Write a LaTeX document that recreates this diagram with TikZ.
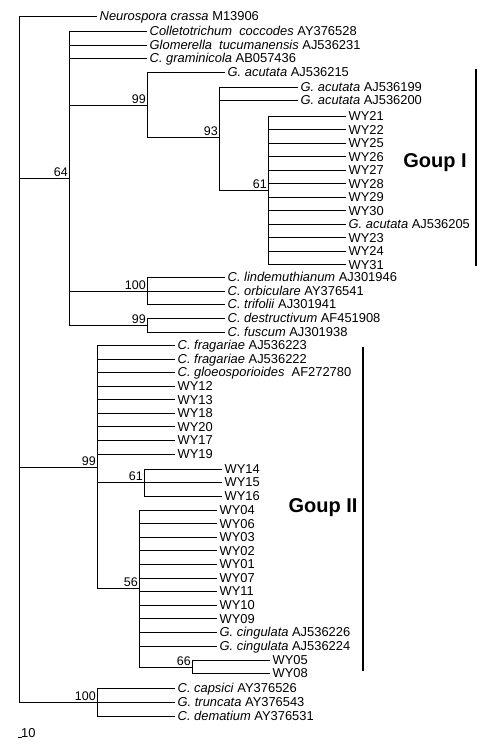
\documentclass[tikz,border=0pt]{standalone}
\usepackage{fontspec}
\setmainfont{Liberation Sans}
\usepackage{tikz}
\usetikzlibrary{calc}
\newcommand*\leaffont{\fontsize{12.9}{14}\selectfont}
\newcommand*\bootfont{\fontsize{12.5}{14}\selectfont}
\tikzset{
  leaf/.style={anchor=west,inner sep=2.5pt,text height=9.6pt,text depth=0pt,font=\leaffont},
  boot/.style={anchor=south east,inner sep=1pt,text height=9pt,text depth=0pt,font=\bootfont},
  grouplabel/.style={inner sep=0pt,font=\fontsize{20}{24}\selectfont\bfseries},
  branch/.style={line width=0.8pt}
}

\begin{document}
\begin{tikzpicture}[x=1pt,y=-1pt]
\useasboundingbox (0,0) rectangle (494,746);
%internal nodes
\coordinate (root) at (19,359);
\coordinate (n64) at (69,178);
\coordinate (n99a) at (147,105);
\coordinate (n93) at (219,137);
\coordinate (n61a) at (268,190);
\coordinate (n100a) at (147,291);
\coordinate (n99b) at (147,325);
\coordinate (n99c) at (97,467);
\coordinate (n61b) at (144,482);
\coordinate (n56) at (139,588);
\coordinate (n66) at (192,667);
\coordinate (n100b) at (97,702);
%
\node [leaf] (neu) at (97,16) {\textit{Neurospora crassa} M13906};
\node [leaf] (coc) at (147,31) {\textit{Colletotrichum\ \ coccodes} AY376528};
\node [leaf] (glo) at (147,45) {\textit{Glomerella\ \ tucumanensis} AJ536231};
\node [leaf] (gra) at (147,58) {\textit{C. graminicola} AB057436};
\node [leaf] (acu215) at (225,72) {\textit{G. acutata} AJ536215};
\node [leaf] (acu199) at (298,87) {\textit{G. acutata} AJ536199};
\node [leaf] (acu200) at (298,100) {\textit{G. acutata} AJ536200};
% group I isolates
\node [leaf] (wy21) at (346,116) {WY21};
\node [leaf] (wy22) at (346,129.5) {WY22};
\node [leaf] (wy25) at (346,143) {WY25};
\node [leaf] (wy26) at (346,156.5) {WY26};
\node [leaf] (wy27) at (346,170) {WY27};
\node [leaf] (wy28) at (346,183.5) {WY28};
\node [leaf] (wy29) at (346,197) {WY29};
\node [leaf] (wy30) at (346,210.5) {WY30};
\node [leaf] (acu205) at (346,224) {\textit{G. acutata} AJ536205};
\node [leaf] (wy23) at (346,237.5) {WY23};
\node [leaf] (wy24) at (346,251) {WY24};
\node [leaf] (wy31) at (346,264.5) {WY31};
%
\node [leaf] (lin) at (225,277) {\textit{C. lindemuthianum} AJ301946};
\node [leaf] (orb) at (225,291) {\textit{C. orbiculare} AY376541};
\node [leaf] (tri) at (225,304) {\textit{C. trifolii} AJ301941};
\node [leaf] (des) at (225,318) {\textit{C. destructivum} AF451908};
\node [leaf] (fus) at (225,332) {\textit{C. fuscum} AJ301938};
% group II
\node [leaf] (fra223) at (175,345) {\textit{C. fragariae} AJ536223};
\node [leaf] (fra222) at (175,359) {\textit{C. fragariae} AJ536222};
\node [leaf] (gls) at (175,372) {\textit{C. gloeosporioides}\ \ AF272780};
\node [leaf] (wy12) at (175,386) {WY12};
\node [leaf] (wy13) at (175,399.5) {WY13};
\node [leaf] (wy18) at (175,413) {WY18};
\node [leaf] (wy20) at (175,426.5) {WY20};
\node [leaf] (wy17) at (175,440) {WY17};
\node [leaf] (wy19) at (175,454) {WY19};
\node [leaf] (wy14) at (222,469) {WY14};
\node [leaf] (wy15) at (222,482) {WY15};
\node [leaf] (wy16) at (222,496) {WY16};
\node [leaf] (wy04) at (217,510) {WY04};
\node [leaf] (wy06) at (217,523.5) {WY06};
\node [leaf] (wy03) at (217,537) {WY03};
\node [leaf] (wy02) at (217,550.5) {WY02};
\node [leaf] (wy01) at (217,564) {WY01};
\node [leaf] (wy07) at (217,578) {WY07};
\node [leaf] (wy11) at (217,591) {WY11};
\node [leaf] (wy10) at (217,605) {WY10};
\node [leaf] (wy09) at (217,618.5) {WY09};
\node [leaf] (cin226) at (217,632) {\textit{G. cingulata} AJ536226};
\node [leaf] (cin224) at (217,646) {\textit{G. cingulata} AJ536224};
\node [leaf] (wy05) at (270,660) {WY05};
\node [leaf] (wy08) at (270,673) {WY08};
% outgroup
\node [leaf] (cap) at (175,688) {\textit{C. capsici} AY376526};
\node [leaf] (tru) at (175,702) {\textit{G. truncata} AY376543};
\node [leaf] (dem) at (175,716) {\textit{C. dematium} AY376531};
%
\begin{scope}[branch]
% root
\draw (root |- neu) -- (root |- n100b);
\draw (root |- neu) -- (neu.west);
\draw (root |- n64) -- (n64);
\draw (root |- n99c) -- (n99c);
\draw (root |- n100b) -- (n100b);
% node 64
\draw (n64 |- coc) -- (n64 |- n99b);
\draw (n64 |- coc) -- (coc.west);
\draw (n64 |- glo) -- (glo.west);
\draw (n64 |- gra) -- (gra.west);
\draw (n64 |- n99a) -- (n99a);
\draw (n64 |- n100a) -- (n100a);
\draw (n64 |- n99b) -- (n99b);
% node 99, node 93
\draw (n99a |- acu215) -- (n99a |- n93);
\draw (n99a |- acu215) -- (acu215.west);
\draw (n99a |- n93) -- (n93);
\draw (n93 |- acu199) -- (n93 |- n61a);
\draw (n93 |- acu199) -- (acu199.west);
\draw (n93 |- acu200) -- (acu200.west);
\draw (n93 |- n61a) -- (n61a);
% node 61
\draw (n61a |- wy21) -- (n61a |- wy31);
\draw (n61a |- wy21) -- (wy21.west);
\draw (n61a |- wy22) -- (wy22.west);
\draw (n61a |- wy25) -- (wy25.west);
\draw (n61a |- wy26) -- (wy26.west);
\draw (n61a |- wy27) -- (wy27.west);
\draw (n61a |- wy28) -- (wy28.west);
\draw (n61a |- wy29) -- (wy29.west);
\draw (n61a |- wy30) -- (wy30.west);
\draw (n61a |- acu205) -- (acu205.west);
\draw (n61a |- wy23) -- (wy23.west);
\draw (n61a |- wy24) -- (wy24.west);
\draw (n61a |- wy31) -- (wy31.west);
% node 100, node 99
\draw (n100a |- lin) -- (n100a |- tri);
\draw (n100a |- lin) -- (lin.west);
\draw (n100a |- orb) -- (orb.west);
\draw (n100a |- tri) -- (tri.west);
\draw (n99b |- des) -- (n99b |- fus);
\draw (n99b |- des) -- (des.west);
\draw (n99b |- fus) -- (fus.west);
% node 99 (group II)
\draw (n99c |- fra223) -- (n99c |- n56);
\draw (n99c |- fra223) -- (fra223.west);
\draw (n99c |- fra222) -- (fra222.west);
\draw (n99c |- gls) -- (gls.west);
\draw (n99c |- wy12) -- (wy12.west);
\draw (n99c |- wy13) -- (wy13.west);
\draw (n99c |- wy18) -- (wy18.west);
\draw (n99c |- wy20) -- (wy20.west);
\draw (n99c |- wy17) -- (wy17.west);
\draw (n99c |- wy19) -- (wy19.west);
\draw (n99c |- n61b) -- (n61b);
\draw (n99c |- n56) -- (n56);
\draw (n61b |- wy14) -- (n61b |- wy16);
\draw (n61b |- wy14) -- (wy14.west);
\draw (n61b |- wy15) -- (wy15.west);
\draw (n61b |- wy16) -- (wy16.west);
% node 56
\draw (n56 |- wy04) -- (n56 |- n66);
\draw (n56 |- wy04) -- (wy04.west);
\draw (n56 |- wy06) -- (wy06.west);
\draw (n56 |- wy03) -- (wy03.west);
\draw (n56 |- wy02) -- (wy02.west);
\draw (n56 |- wy01) -- (wy01.west);
\draw (n56 |- wy07) -- (wy07.west);
\draw (n56 |- wy11) -- (wy11.west);
\draw (n56 |- wy10) -- (wy10.west);
\draw (n56 |- wy09) -- (wy09.west);
\draw (n56 |- cin226) -- (cin226.west);
\draw (n56 |- cin224) -- (cin224.west);
\draw (n56 |- n66) -- (n66);
\draw (n66 |- wy05) -- (n66 |- wy08);
\draw (n66 |- wy05) -- (wy05.west);
\draw (n66 |- wy08) -- (wy08.west);
% node 100 (outgroup)
\draw (n100b |- cap) -- (n100b |- dem);
\draw (n100b |- cap) -- (cap.west);
\draw (n100b |- tru) -- (tru.west);
\draw (n100b |- dem) -- (dem.west);
\end{scope}
% bootstrap values
\node [boot] (b64) at (n64) {64};
\node [boot] (b99a) at (n99a) {99};
\node [boot] (b93) at (n93) {93};
\node [boot] (b61a) at (n61a) {61};
\node [boot] (b100a) at (n100a) {100};
\node [boot] (b99b) at (n99b) {99};
\node [boot] (b99c) at (n99c) {99};
\node [boot] (b61b) at (n61b) {61};
\node [boot] (b56) at (n56) {56};
\node [boot] (b66) at (n66) {66};
\node [boot] (b100b) at (n100b) {100};
% groups
\draw [line width=1.3pt] (476,69) -- (476,266);
\node [grouplabel] (g1) at (435,163) {Goup I};
\draw [line width=1.3pt] (363,347) -- (363,671);
\node [grouplabel] (g2) at (323,508) {Goup II};
% scale
\draw [line width=0.8pt] (18,737) -- (21.5,737);
\node [anchor=base west,inner sep=0pt,font=\leaffont] (scale) at (21,737) {10};
\end{tikzpicture}
\end{document}
